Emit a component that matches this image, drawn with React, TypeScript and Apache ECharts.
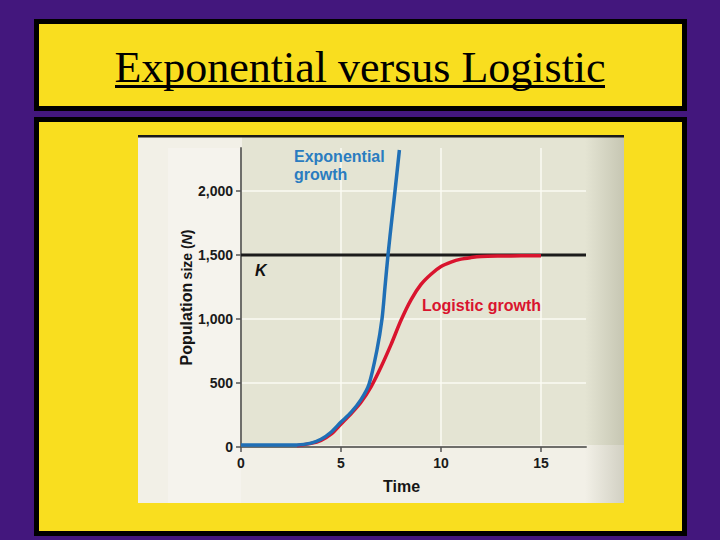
import React, { useEffect, useRef } from "react";
import * as echarts from "echarts";

// ---- data ----
const expTime = [0, 1, 2, 2.8, 3.5, 4, 4.5, 5, 5.5, 6, 6.4, 6.8, 7.05, 7.2, 7.35, 7.55, 7.7, 7.92];
const expPop = [15, 15, 15, 16, 30, 60, 115, 195, 270, 370, 490, 760, 1000, 1250, 1500, 1790, 2000, 2320];

const logTime = [2.8, 3.5, 4, 4.5, 5, 5.5, 6, 6.5, 7, 7.5, 8, 8.5, 9, 9.5, 10, 10.5, 11, 11.5, 12, 13, 14, 15];
const logPop = [10, 28, 52, 100, 180, 260, 350, 470, 625, 800, 990, 1150, 1270, 1350, 1410, 1445, 1468, 1480, 1488, 1492, 1494, 1495];

const K = 1500;
const timeRange = [0, 17.25];
const popMax = 2336;
const xTicks = [0, 5, 10, 15];
const yTicks = [0, 500, 1000, 1500, 2000];

const title = "Exponential versus Logistic";

const PURPLE = "#43177d";
const YELLOW = "#f9de1f";
const BLUE = "#1f6fb6";
const RED = "#d9142e";
const SANS = "'Liberation Sans', Arial, Helvetica, sans-serif";

export default function App() {
  const ref = useRef<HTMLDivElement>(null);

  useEffect(() => {
    if (!ref.current) return;
    const chart = echarts.init(ref.current, undefined, { renderer: "svg" });

    const pairs = (xs: number[], ys: number[]) => xs.map((x, i) => [x, ys[i]]);

    const option: any = {
      animation: false,
      backgroundColor: PURPLE,
      grid: { left: 241, top: 148, width: 345, height: 299, containLabel: false },
      xAxis: {
        type: "value",
        min: timeRange[0],
        max: timeRange[1],
        interval: 5,
        name: "Time",
        nameLocation: "middle",
        nameGap: 31,
        nameTextStyle: {
          fontFamily: SANS,
          fontWeight: "bold",
          fontSize: 16,
          color: "#151515",
          padding: [0, 24, 0, 0],
        },
        axisLine: { show: true, lineStyle: { color: "#6e6e6a", width: 2 } },
        axisTick: { show: true, length: 5, customValues: xTicks, lineStyle: { color: "#555", width: 1.5 } },
        axisLabel: {
          customValues: xTicks,
          margin: 9,
          fontFamily: SANS,
          fontWeight: "bold",
          fontSize: 14,
          color: "#1a1a1a",
        },
        splitLine: { show: true, lineStyle: { color: "#fbfbf3", width: 1.5 } },
      },
      yAxis: {
        type: "value",
        min: 0,
        max: popMax,
        interval: 500,
        name: "{a|Population} {b|size (}{c|N}{b|)}",
        nameLocation: "middle",
        nameRotate: 90,
        nameGap: 47,
        nameTextStyle: {
          rich: {
            a: { fontFamily: SANS, fontWeight: "bold", fontSize: 16, color: "#151515", verticalAlign: "bottom" },
            b: { fontFamily: SANS, fontWeight: "bold", fontSize: 14, color: "#151515", verticalAlign: "bottom" },
            c: { fontFamily: SANS, fontWeight: "bold", fontStyle: "italic", fontSize: 14, color: "#151515", verticalAlign: "bottom" },
          },
        },
        axisLine: { show: true, lineStyle: { color: "#6e6e6a", width: 2 } },
        axisTick: { show: true, length: 5, customValues: yTicks, lineStyle: { color: "#555", width: 1.5 } },
        axisLabel: {
          customValues: yTicks,
          margin: 8,
          fontFamily: SANS,
          fontWeight: "bold",
          fontSize: 14,
          color: "#1a1a1a",
          formatter: (v: number) => v.toLocaleString("en-US"),
        },
        splitLine: { show: true, lineStyle: { color: "#fbfbf3", width: 1.5 } },
      },
      series: [
        {
          type: "line",
          name: "K",
          data: timeRange.map((t) => [t, K]),
          showSymbol: false,
          lineStyle: { color: "#1b1b1b", width: 3 },
          z: 2,
        },
        {
          type: "line",
          name: "Logistic growth",
          data: pairs(logTime, logPop),
          showSymbol: false,
          smooth: 0.3,
          lineStyle: { color: RED, width: 3.5 },
          z: 3,
        },
        {
          type: "line",
          name: "Exponential growth",
          data: pairs(expTime, expPop),
          showSymbol: false,
          smooth: 0.3,
          lineStyle: { color: BLUE, width: 3.5 },
          z: 4,
        },
      ],
      graphic: [
        // title box
        { type: "rect", z: -20, shape: { x: 36.5, y: 21.5, width: 648, height: 87 }, style: { fill: YELLOW, stroke: "#000", lineWidth: 5 } },
        // main box
        { type: "rect", z: -20, shape: { x: 36.5, y: 119.5, width: 648, height: 414 }, style: { fill: YELLOW, stroke: "#000", lineWidth: 5 } },
        // title text
        {
          type: "text",
          z: 50,
          x: 360,
          y: 67,
          style: {
            text: title,
            font: "44px 'Liberation Serif', 'Times New Roman', serif",
            fill: "#000",
            textAlign: "center",
            textVerticalAlign: "middle",
          },
        },
        { type: "rect", z: 50, shape: { x: 115, y: 85, width: 490, height: 3 }, style: { fill: "#000" } },
        // chart picture background
        { type: "rect", z: -15, shape: { x: 138, y: 136, width: 486, height: 367 }, style: { fill: "#f2f0e7" } },
        { type: "rect", z: -14, shape: { x: 168, y: 148, width: 73, height: 355 }, style: { fill: "#f5f3ed" } },
        { type: "rect", z: -14, shape: { x: 242, y: 137, width: 382, height: 308 }, style: { fill: "#e4e4d3" } },
        {
          type: "rect",
          z: -13,
          shape: { x: 585, y: 137, width: 39, height: 366 },
          style: {
            fill: new echarts.graphic.LinearGradient(0, 0, 1, 0, [
              { offset: 0, color: "rgba(80,80,50,0)" },
              { offset: 1, color: "rgba(80,80,50,0.2)" },
            ]),
          },
        },
        { type: "rect", z: -12, shape: { x: 138, y: 135, width: 486, height: 2.5 }, style: { fill: "#1a1a1a" } },
        // annotations
        {
          type: "text",
          z: 60,
          x: 294,
          y: 147,
          style: {
            text: "Exponential\ngrowth",
            font: `bold 16px ${SANS}`,
            fill: "#2a7cc0",
            lineHeight: 18,
            textAlign: "left",
            textVerticalAlign: "top",
          },
        },
        {
          type: "text",
          z: 60,
          x: 422,
          y: 305,
          style: {
            text: "Logistic growth",
            font: `bold 16px ${SANS}`,
            fill: RED,
            textAlign: "left",
            textVerticalAlign: "middle",
          },
        },
        {
          type: "text",
          z: 60,
          x: 255,
          y: 270,
          style: {
            text: "K",
            font: `italic bold 16px ${SANS}`,
            fill: "#111",
            textAlign: "left",
            textVerticalAlign: "middle",
          },
        },
      ],
    };

    chart.setOption(option);
    return () => chart.dispose();
  }, []);

  return (
    <div
      ref={ref}
      style={{ position: "fixed", left: 0, top: 0, width: 720, height: 540 }}
    />
  );
}
